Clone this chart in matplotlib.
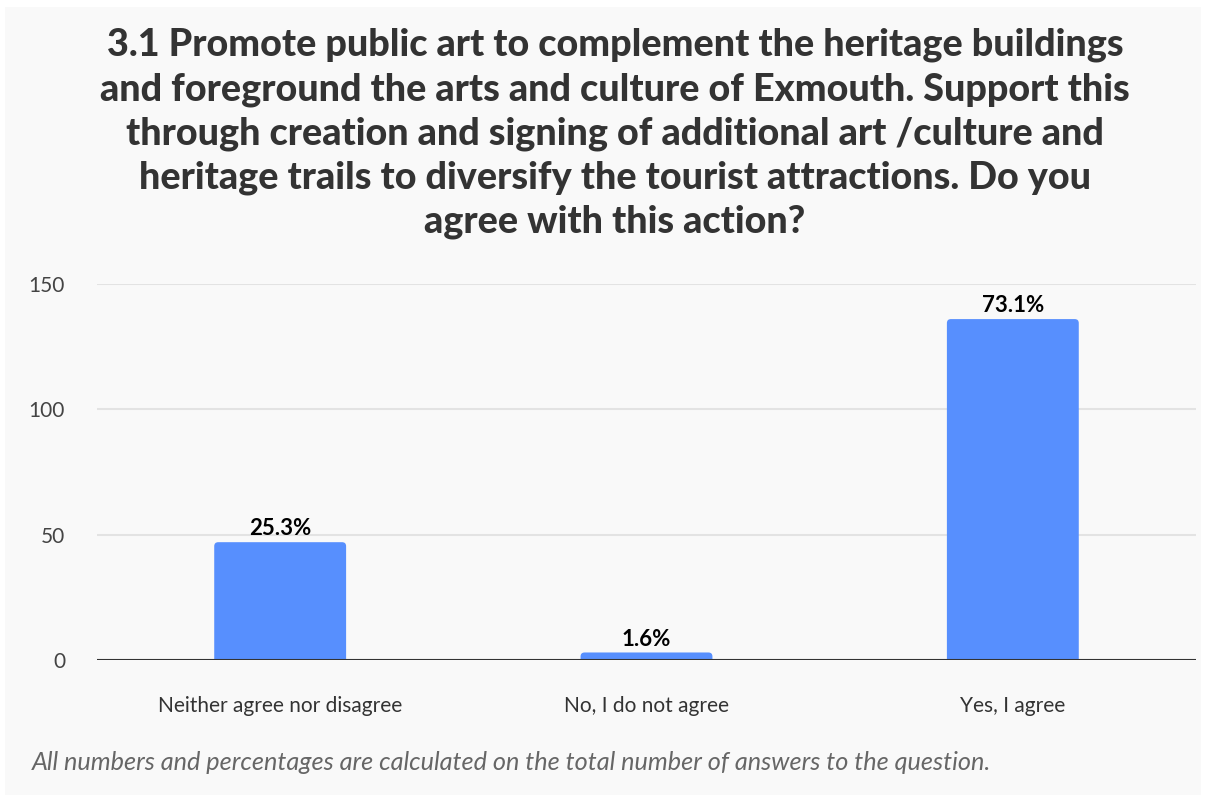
import matplotlib.pyplot as plt
from matplotlib.patches import FancyBboxPatch, Rectangle

# Survey answers (counts) and the share of the total they represent
categories = ['Neither agree nor disagree', 'No, I do not agree', 'Yes, I agree']
counts = [47, 3, 136]
percent_labels = ['25.3%', '1.6%', '73.1%']
yticks = [0, 50, 100, 150]

title = ('3.1 Promote public art to complement the heritage buildings\n'
         'and foreground the arts and culture of Exmouth. Support this\n'
         'through creation and signing of additional art /culture and\n'
         'heritage trails to diversify the tourist attractions. Do you\n'
         'agree with this action?')
note = 'All numbers and percentages are calculated on the total number of answers to the question.'

font = 'Lato'
bar_color = '#578ffe'
panel_color = '#f9f9f9'

fig = plt.figure(figsize=(12.08, 8.01), dpi=100, facecolor='white')
# light panel behind everything
fig.patches.append(Rectangle((5 / 1208, 6 / 801), 1196 / 1208, 788 / 801,
                             transform=fig.transFigure, facecolor=panel_color,
                             edgecolor='none', zorder=-1))

ax = fig.add_axes([97 / 1208, 141 / 801, 1099 / 1208, 376 / 801])
ax.set_facecolor('none')
ax.set_xlim(-0.5, len(categories) - 0.5)
ax.set_ylim(0, 150)

# bars with slightly rounded tops
width = 0.36
for i, (c, lab) in enumerate(zip(counts, percent_labels)):
    box = FancyBboxPatch((i - width / 2, -3), width, c + 3,
                         boxstyle='round,pad=0,rounding_size=0.011',
                         mutation_aspect=145, facecolor=bar_color,
                         edgecolor='none', zorder=3)
    ax.add_patch(box)
    ax.annotate(lab, (i, c), xytext=(0, 2), textcoords='offset points',
                ha='center', va='bottom', fontsize=16, fontweight='bold',
                family=font, color='black', zorder=4)

ax.set_yticks(yticks)
ax.set_xticks(range(len(categories)))
ax.set_xticklabels(categories)
ax.tick_params(axis='both', length=0, labelsize=15, labelcolor='#444444')
ax.tick_params(axis='y', pad=23)
ax.tick_params(axis='x', pad=26, labelcolor='#333333')
for t in ax.get_xticklabels() + ax.get_yticklabels():
    t.set_family(font)

ax.grid(axis='y', color='#e3e3e3', linewidth=1.5, zorder=0)
ax.axhline(0, color='#333333', linewidth=1.5, zorder=5)
for s in ax.spines.values():
    s.set_visible(False)

fig.text(615 / 1208, 1 - 28 / 801, title, ha='center', va='top', fontsize=27.2,
         fontweight='black', family=font, color='#333333', linespacing=1.34)
fig.text(32 / 1208, 1 - 763 / 801, note, ha='left', va='center', fontsize=18.2,
         style='italic', family=font, color='#666666')

fig.savefig('out.png', dpi=100, facecolor='white')
